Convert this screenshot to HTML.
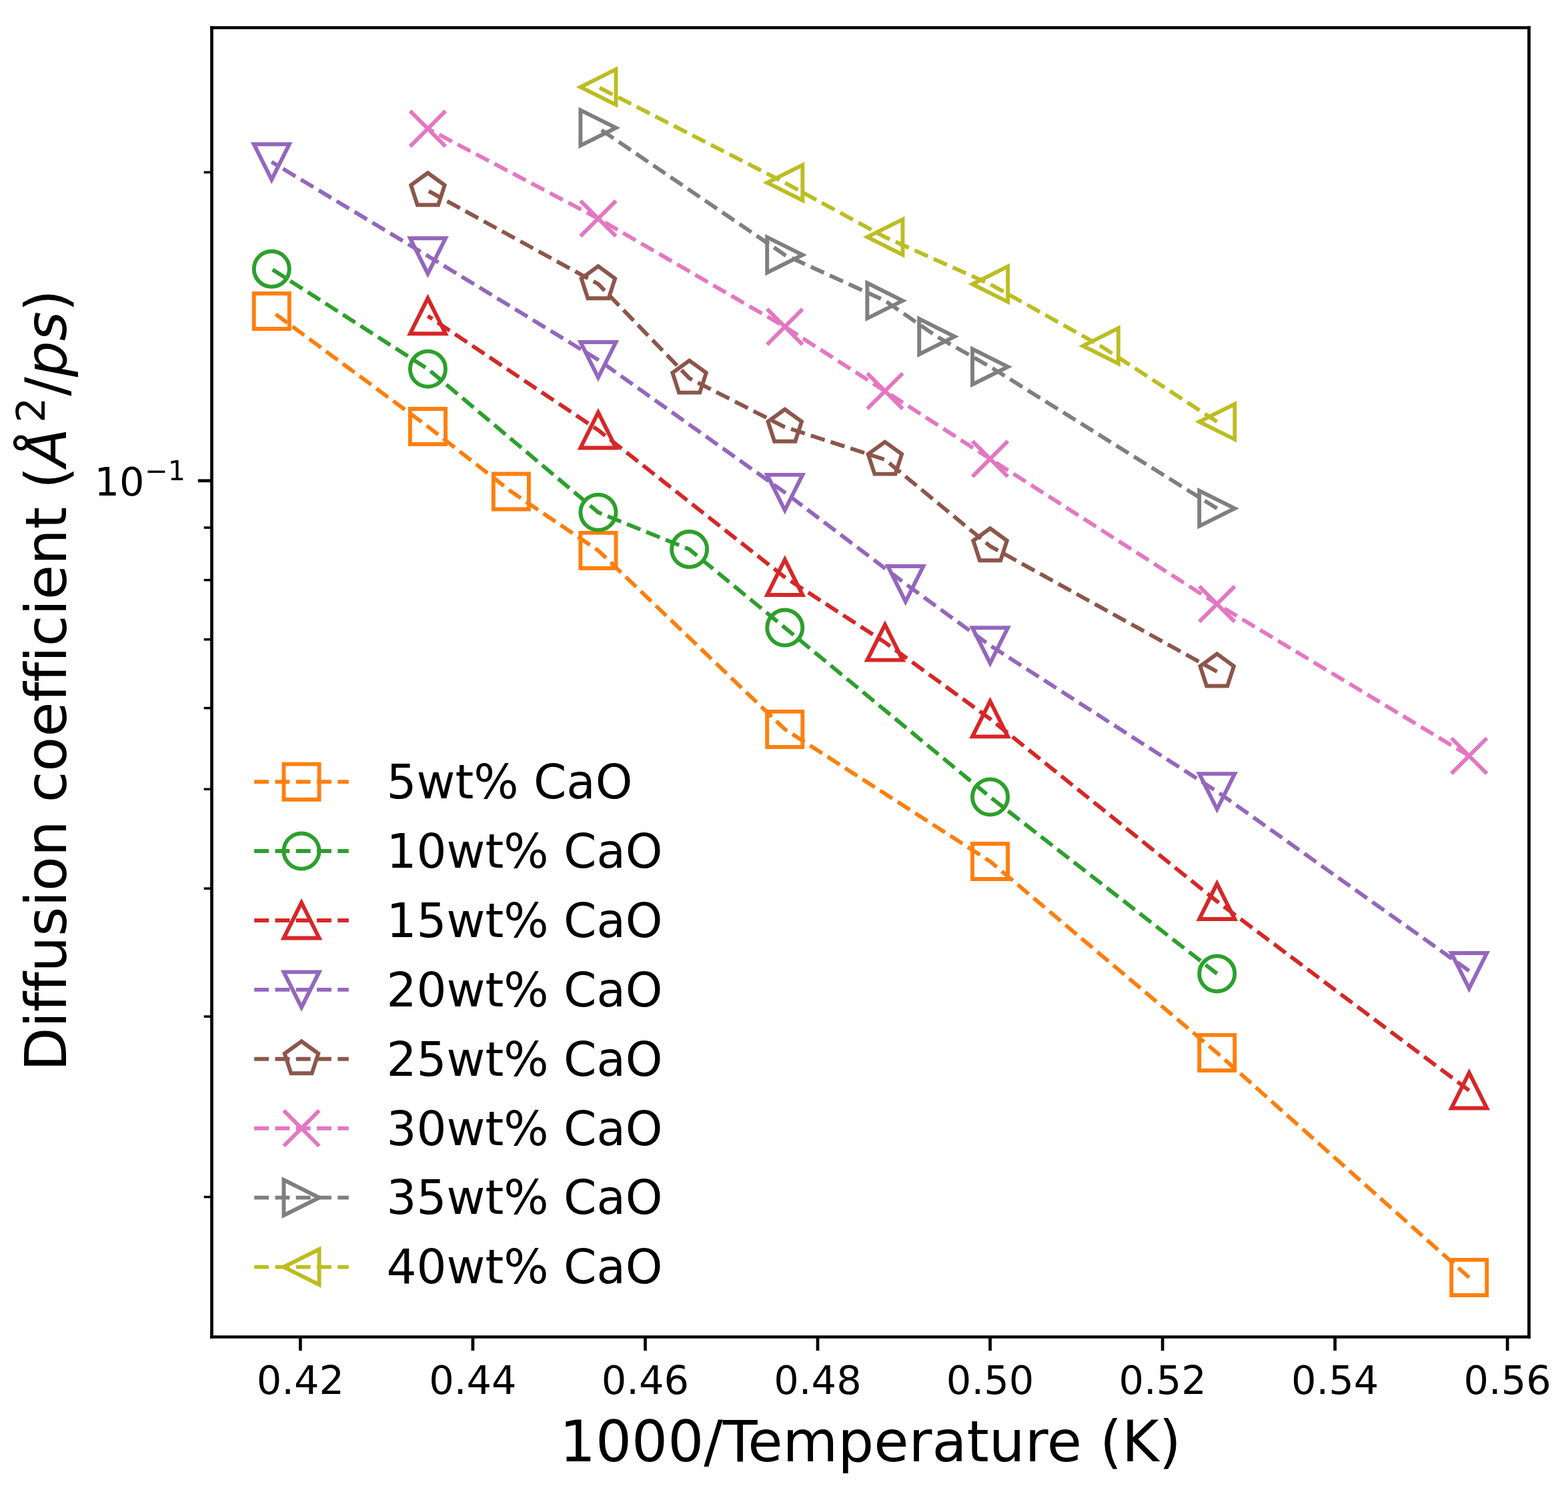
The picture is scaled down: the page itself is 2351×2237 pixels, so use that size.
<!DOCTYPE html>
<html><head><meta charset="utf-8"><title>Diffusion coefficient vs 1000/Temperature</title>
<style>html,body{margin:0;padding:0;background:#fff;}body{width:2351px;height:2237px;overflow:hidden;}svg{display:block;}text{font-variant-ligatures:none;}</style>
</head><body>
<svg width="2351" height="2237" viewBox="0 0 398.474576 379.152542" version="1.1">
 <defs>
  <style type="text/css">*{stroke-linejoin: round; stroke-linecap: butt}</style>
 </defs>
 <g id="figure_1">
  <g id="patch_1">
   <path d="M 0 379.152542 L 398.474576 379.152542 L 398.474576 0 L 0 0 z" style="fill: #ffffff"/>
  </g>
  <g id="axes_1">
   <g id="patch_2">
    <path d="M 53.813559 339.745763 L 388.559322 339.745763 L 388.559322 7.033898 L 53.813559 7.033898 z" style="fill: #ffffff"/>
   </g>
   <g id="matplotlib.axis_1">
    <g id="xtick_1">
     <g id="line2d_1">
      <g>
       <path d="M 0 0 L 0 3.5" transform="translate(76.33282 339.745763)" style="stroke: #000000; stroke-width: 0.8"/>
      </g>
     </g>
     <g id="text_1" transform="translate(0.0000 -0.1695)">
      <text style="font-size: 10px; font-family: 'DejaVu Sans', 'Liberation Sans', sans-serif; text-anchor: middle" x="76.33282" y="354.3442" transform="rotate(-0 76.33282 354.3442)">0.42</text>
     </g>
    </g>
    <g id="xtick_2">
     <g id="line2d_2">
      <g>
       <path d="M 0 0 L 0 3.5" transform="translate(120.154083 339.745763)" style="stroke: #000000; stroke-width: 0.8"/>
      </g>
     </g>
     <g id="text_2" transform="translate(0.0000 -0.1695)">
      <text style="font-size: 10px; font-family: 'DejaVu Sans', 'Liberation Sans', sans-serif; text-anchor: middle" x="120.154083" y="354.3442" transform="rotate(-0 120.154083 354.3442)">0.44</text>
     </g>
    </g>
    <g id="xtick_3">
     <g id="line2d_3">
      <g>
       <path d="M 0 0 L 0 3.5" transform="translate(163.975347 339.745763)" style="stroke: #000000; stroke-width: 0.8"/>
      </g>
     </g>
     <g id="text_3" transform="translate(0.0000 -0.1695)">
      <text style="font-size: 10px; font-family: 'DejaVu Sans', 'Liberation Sans', sans-serif; text-anchor: middle" x="163.975347" y="354.3442" transform="rotate(-0 163.975347 354.3442)">0.46</text>
     </g>
    </g>
    <g id="xtick_4">
     <g id="line2d_4">
      <g>
       <path d="M 0 0 L 0 3.5" transform="translate(207.79661 339.745763)" style="stroke: #000000; stroke-width: 0.8"/>
      </g>
     </g>
     <g id="text_4" transform="translate(0.0000 -0.1695)">
      <text style="font-size: 10px; font-family: 'DejaVu Sans', 'Liberation Sans', sans-serif; text-anchor: middle" x="207.79661" y="354.3442" transform="rotate(-0 207.79661 354.3442)">0.48</text>
     </g>
    </g>
    <g id="xtick_5">
     <g id="line2d_5">
      <g>
       <path d="M 0 0 L 0 3.5" transform="translate(251.617874 339.745763)" style="stroke: #000000; stroke-width: 0.8"/>
      </g>
     </g>
     <g id="text_5" transform="translate(0.0000 -0.1695)">
      <text style="font-size: 10px; font-family: 'DejaVu Sans', 'Liberation Sans', sans-serif; text-anchor: middle" x="251.617874" y="354.3442" transform="rotate(-0 251.617874 354.3442)">0.50</text>
     </g>
    </g>
    <g id="xtick_6">
     <g id="line2d_6">
      <g>
       <path d="M 0 0 L 0 3.5" transform="translate(295.439137 339.745763)" style="stroke: #000000; stroke-width: 0.8"/>
      </g>
     </g>
     <g id="text_6" transform="translate(0.0000 -0.1695)">
      <text style="font-size: 10px; font-family: 'DejaVu Sans', 'Liberation Sans', sans-serif; text-anchor: middle" x="295.439137" y="354.3442" transform="rotate(-0 295.439137 354.3442)">0.52</text>
     </g>
    </g>
    <g id="xtick_7">
     <g id="line2d_7">
      <g>
       <path d="M 0 0 L 0 3.5" transform="translate(339.260401 339.745763)" style="stroke: #000000; stroke-width: 0.8"/>
      </g>
     </g>
     <g id="text_7" transform="translate(0.0000 -0.1695)">
      <text style="font-size: 10px; font-family: 'DejaVu Sans', 'Liberation Sans', sans-serif; text-anchor: middle" x="339.260401" y="354.3442" transform="rotate(-0 339.260401 354.3442)">0.54</text>
     </g>
    </g>
    <g id="xtick_8">
     <g id="line2d_8">
      <g>
       <path d="M 0 0 L 0 3.5" transform="translate(383.081664 339.745763)" style="stroke: #000000; stroke-width: 0.8"/>
      </g>
     </g>
     <g id="text_8" transform="translate(0.0000 -0.1695)">
      <text style="font-size: 10px; font-family: 'DejaVu Sans', 'Liberation Sans', sans-serif; text-anchor: middle" x="383.081664" y="354.3442" transform="rotate(-0 383.081664 354.3442)">0.56</text>
     </g>
    </g>
    <g id="text_9">
     <text style="font-size: 14.4px; font-family: 'DejaVu Sans', 'Liberation Sans', sans-serif; text-anchor: middle" x="221.186441" y="371.365638" transform="rotate(-0 221.186441 371.365638)">1000/Temperature (K)</text>
    </g>
   </g>
   <g id="matplotlib.axis_2">
    <g id="ytick_1">
     <g id="line2d_9">
      <g>
       <path d="M 0 0 L -3.5 0" transform="translate(53.813559 122.169492)" style="stroke: #000000; stroke-width: 0.8"/>
      </g>
     </g>
     <g id="text_10" transform="translate(0.6780 0.0000)">
      <g transform="translate(23.313559 125.96871)">
       <text style="font-size: 10px; font-family: 'DejaVu Sans', 'Liberation Sans', sans-serif"><tspan x="0" y="-0.064063">10</tspan><tspan x="12.820312" y="-3.892188" style="font-size: 7px">−1</tspan></text>
      </g>
     </g>
    </g>
    <g id="ytick_2">
     <g id="line2d_10">
      <g>
       <path d="M 0 0 L -2 0" transform="translate(53.813559 304.174172)" style="stroke: #000000; stroke-width: 0.6"/>
      </g>
     </g>
    </g>
    <g id="ytick_3">
     <g id="line2d_11">
      <g>
       <path d="M 0 0 L -2 0" transform="translate(53.813559 258.321799)" style="stroke: #000000; stroke-width: 0.6"/>
      </g>
     </g>
    </g>
    <g id="ytick_4">
     <g id="line2d_12">
      <g>
       <path d="M 0 0 L -2 0" transform="translate(53.813559 225.789023)" style="stroke: #000000; stroke-width: 0.6"/>
      </g>
     </g>
    </g>
    <g id="ytick_5">
     <g id="line2d_13">
      <g>
       <path d="M 0 0 L -2 0" transform="translate(53.813559 200.554641)" style="stroke: #000000; stroke-width: 0.6"/>
      </g>
     </g>
    </g>
    <g id="ytick_6">
     <g id="line2d_14">
      <g>
       <path d="M 0 0 L -2 0" transform="translate(53.813559 179.93665)" style="stroke: #000000; stroke-width: 0.6"/>
      </g>
     </g>
    </g>
    <g id="ytick_7">
     <g id="line2d_15">
      <g>
       <path d="M 0 0 L -2 0" transform="translate(53.813559 162.504387)" style="stroke: #000000; stroke-width: 0.6"/>
      </g>
     </g>
    </g>
    <g id="ytick_8">
     <g id="line2d_16">
      <g>
       <path d="M 0 0 L -2 0" transform="translate(53.813559 147.403873)" style="stroke: #000000; stroke-width: 0.6"/>
      </g>
     </g>
    </g>
    <g id="ytick_9">
     <g id="line2d_17">
      <g>
       <path d="M 0 0 L -2 0" transform="translate(53.813559 134.084277)" style="stroke: #000000; stroke-width: 0.6"/>
      </g>
     </g>
    </g>
    <g id="ytick_10">
     <g id="line2d_18">
      <g>
       <path d="M 0 0 L -2 0" transform="translate(53.813559 43.784342)" style="stroke: #000000; stroke-width: 0.6"/>
      </g>
     </g>
    </g>
    <g id="text_11" transform="translate(0.4237 -0.7627)">
     <g transform="translate(16.289559 272.965831) rotate(-90)">
      <text style="font-size: 14.4px; font-family: 'DejaVu Sans', 'Liberation Sans', sans-serif"><tspan x="0 11.069031 15.062866 20.123596 25.184326 34.295044 41.784363 45.778198 54.573059 63.683777 68.253174 76.156616 84.951477 93.795471 98.856201 103.916931 107.910767 115.814209 119.808044 128.652039 137.762756 143.399048" y="0">Diffusion coefficient </tspan><tspan x="147.968445" y="0">(</tspan><tspan x="153.57666" y="0" style="font-style: oblique">Å</tspan><tspan x="164.783725" y="-5.359375" style="font-size: 10.08px">2</tspan><tspan x="171.568606" y="0">/</tspan><tspan x="176.411746 185.536502" y="0" style="font-style: oblique">ps</tspan><tspan x="193.025821" y="0">)</tspan></text>
     </g>
    </g>
   </g>
   <g id="line2d_19">
    <path d="M 373.343606 324.644068 L 309.277431 267.525424 L 251.617874 218.898305 L 199.449703 185.322034 L 152.024093 139.898305 L 129.892142 124.915254 L 108.722449 108.389831 L 69.029276 79.067797" clip-path="url(#pc05a1d1f38)" style="fill: none; stroke-dasharray: 3.7,1.6; stroke-dashoffset: 0; stroke: #ff7f0e"/>
    <g clip-path="url(#pc05a1d1f38)">
     <path d="M -4.5 4.5 L 4.5 4.5 L 4.5 -4.5 L -4.5 -4.5 z" transform="translate(373.343606 324.644068)" style="fill-opacity: 0; stroke: #ff7f0e; stroke-linejoin: miter"/>
     <path d="M -4.5 4.5 L 4.5 4.5 L 4.5 -4.5 L -4.5 -4.5 z" transform="translate(309.277431 267.525424)" style="fill-opacity: 0; stroke: #ff7f0e; stroke-linejoin: miter"/>
     <path d="M -4.5 4.5 L 4.5 4.5 L 4.5 -4.5 L -4.5 -4.5 z" transform="translate(251.617874 218.898305)" style="fill-opacity: 0; stroke: #ff7f0e; stroke-linejoin: miter"/>
     <path d="M -4.5 4.5 L 4.5 4.5 L 4.5 -4.5 L -4.5 -4.5 z" transform="translate(199.449703 185.322034)" style="fill-opacity: 0; stroke: #ff7f0e; stroke-linejoin: miter"/>
     <path d="M -4.5 4.5 L 4.5 4.5 L 4.5 -4.5 L -4.5 -4.5 z" transform="translate(152.024093 139.898305)" style="fill-opacity: 0; stroke: #ff7f0e; stroke-linejoin: miter"/>
     <path d="M -4.5 4.5 L 4.5 4.5 L 4.5 -4.5 L -4.5 -4.5 z" transform="translate(129.892142 124.915254)" style="fill-opacity: 0; stroke: #ff7f0e; stroke-linejoin: miter"/>
     <path d="M -4.5 4.5 L 4.5 4.5 L 4.5 -4.5 L -4.5 -4.5 z" transform="translate(108.722449 108.389831)" style="fill-opacity: 0; stroke: #ff7f0e; stroke-linejoin: miter"/>
     <path d="M -4.5 4.5 L 4.5 4.5 L 4.5 -4.5 L -4.5 -4.5 z" transform="translate(69.029276 79.067797)" style="fill-opacity: 0; stroke: #ff7f0e; stroke-linejoin: miter"/>
    </g>
   </g>
   <g id="line2d_20">
    <path d="M 309.277431 247.440678 L 251.617874 202.533898 L 199.449703 159.508475 L 175.185437 139.59322 L 152.024093 130.20339 L 108.722449 93.762712 L 69.029276 68.355932" clip-path="url(#pc05a1d1f38)" style="fill: none; stroke-dasharray: 3.7,1.6; stroke-dashoffset: 0; stroke: #2ca02c"/>
    <g clip-path="url(#pc05a1d1f38)">
     <path d="M 0 4.5 C 1.193414 4.5 2.338109 4.025852 3.181981 3.181981 C 4.025852 2.338109 4.5 1.193414 4.5 0 C 4.5 -1.193414 4.025852 -2.338109 3.181981 -3.181981 C 2.338109 -4.025852 1.193414 -4.5 0 -4.5 C -1.193414 -4.5 -2.338109 -4.025852 -3.181981 -3.181981 C -4.025852 -2.338109 -4.5 -1.193414 -4.5 0 C -4.5 1.193414 -4.025852 2.338109 -3.181981 3.181981 C -2.338109 4.025852 -1.193414 4.5 0 4.5 z" transform="translate(309.277431 247.440678)" style="fill-opacity: 0; stroke: #2ca02c"/>
     <path d="M 0 4.5 C 1.193414 4.5 2.338109 4.025852 3.181981 3.181981 C 4.025852 2.338109 4.5 1.193414 4.5 0 C 4.5 -1.193414 4.025852 -2.338109 3.181981 -3.181981 C 2.338109 -4.025852 1.193414 -4.5 0 -4.5 C -1.193414 -4.5 -2.338109 -4.025852 -3.181981 -3.181981 C -4.025852 -2.338109 -4.5 -1.193414 -4.5 0 C -4.5 1.193414 -4.025852 2.338109 -3.181981 3.181981 C -2.338109 4.025852 -1.193414 4.5 0 4.5 z" transform="translate(251.617874 202.533898)" style="fill-opacity: 0; stroke: #2ca02c"/>
     <path d="M 0 4.5 C 1.193414 4.5 2.338109 4.025852 3.181981 3.181981 C 4.025852 2.338109 4.5 1.193414 4.5 0 C 4.5 -1.193414 4.025852 -2.338109 3.181981 -3.181981 C 2.338109 -4.025852 1.193414 -4.5 0 -4.5 C -1.193414 -4.5 -2.338109 -4.025852 -3.181981 -3.181981 C -4.025852 -2.338109 -4.5 -1.193414 -4.5 0 C -4.5 1.193414 -4.025852 2.338109 -3.181981 3.181981 C -2.338109 4.025852 -1.193414 4.5 0 4.5 z" transform="translate(199.449703 159.508475)" style="fill-opacity: 0; stroke: #2ca02c"/>
     <path d="M 0 4.5 C 1.193414 4.5 2.338109 4.025852 3.181981 3.181981 C 4.025852 2.338109 4.5 1.193414 4.5 0 C 4.5 -1.193414 4.025852 -2.338109 3.181981 -3.181981 C 2.338109 -4.025852 1.193414 -4.5 0 -4.5 C -1.193414 -4.5 -2.338109 -4.025852 -3.181981 -3.181981 C -4.025852 -2.338109 -4.5 -1.193414 -4.5 0 C -4.5 1.193414 -4.025852 2.338109 -3.181981 3.181981 C -2.338109 4.025852 -1.193414 4.5 0 4.5 z" transform="translate(175.185437 139.59322)" style="fill-opacity: 0; stroke: #2ca02c"/>
     <path d="M 0 4.5 C 1.193414 4.5 2.338109 4.025852 3.181981 3.181981 C 4.025852 2.338109 4.5 1.193414 4.5 0 C 4.5 -1.193414 4.025852 -2.338109 3.181981 -3.181981 C 2.338109 -4.025852 1.193414 -4.5 0 -4.5 C -1.193414 -4.5 -2.338109 -4.025852 -3.181981 -3.181981 C -4.025852 -2.338109 -4.5 -1.193414 -4.5 0 C -4.5 1.193414 -4.025852 2.338109 -3.181981 3.181981 C -2.338109 4.025852 -1.193414 4.5 0 4.5 z" transform="translate(152.024093 130.20339)" style="fill-opacity: 0; stroke: #2ca02c"/>
     <path d="M 0 4.5 C 1.193414 4.5 2.338109 4.025852 3.181981 3.181981 C 4.025852 2.338109 4.5 1.193414 4.5 0 C 4.5 -1.193414 4.025852 -2.338109 3.181981 -3.181981 C 2.338109 -4.025852 1.193414 -4.5 0 -4.5 C -1.193414 -4.5 -2.338109 -4.025852 -3.181981 -3.181981 C -4.025852 -2.338109 -4.5 -1.193414 -4.5 0 C -4.5 1.193414 -4.025852 2.338109 -3.181981 3.181981 C -2.338109 4.025852 -1.193414 4.5 0 4.5 z" transform="translate(108.722449 93.762712)" style="fill-opacity: 0; stroke: #2ca02c"/>
     <path d="M 0 4.5 C 1.193414 4.5 2.338109 4.025852 3.181981 3.181981 C 4.025852 2.338109 4.5 1.193414 4.5 0 C 4.5 -1.193414 4.025852 -2.338109 3.181981 -3.181981 C 2.338109 -4.025852 1.193414 -4.5 0 -4.5 C -1.193414 -4.5 -2.338109 -4.025852 -3.181981 -3.181981 C -4.025852 -2.338109 -4.5 -1.193414 -4.5 0 C -4.5 1.193414 -4.025852 2.338109 -3.181981 3.181981 C -2.338109 4.025852 -1.193414 4.5 0 4.5 z" transform="translate(69.029276 68.355932)" style="fill-opacity: 0; stroke: #2ca02c"/>
    </g>
   </g>
   <g id="line2d_21">
    <path d="M 373.343606 277.118644 L 309.277431 229.050847 L 251.617874 182.677966 L 224.897591 163.237288 L 199.449703 146.694915 L 152.024093 109.305085 L 108.722449 80.288136" clip-path="url(#pc05a1d1f38)" style="fill: none; stroke-dasharray: 3.7,1.6; stroke-dashoffset: 0; stroke: #d62728"/>
    <g clip-path="url(#pc05a1d1f38)">
     <path d="M 0 -4.5 L -4.5 4.5 L 4.5 4.5 z" transform="translate(373.343606 277.118644)" style="fill-opacity: 0; stroke: #d62728; stroke-linejoin: miter"/>
     <path d="M 0 -4.5 L -4.5 4.5 L 4.5 4.5 z" transform="translate(309.277431 229.050847)" style="fill-opacity: 0; stroke: #d62728; stroke-linejoin: miter"/>
     <path d="M 0 -4.5 L -4.5 4.5 L 4.5 4.5 z" transform="translate(251.617874 182.677966)" style="fill-opacity: 0; stroke: #d62728; stroke-linejoin: miter"/>
     <path d="M 0 -4.5 L -4.5 4.5 L 4.5 4.5 z" transform="translate(224.897591 163.237288)" style="fill-opacity: 0; stroke: #d62728; stroke-linejoin: miter"/>
     <path d="M 0 -4.5 L -4.5 4.5 L 4.5 4.5 z" transform="translate(199.449703 146.694915)" style="fill-opacity: 0; stroke: #d62728; stroke-linejoin: miter"/>
     <path d="M 0 -4.5 L -4.5 4.5 L 4.5 4.5 z" transform="translate(152.024093 109.305085)" style="fill-opacity: 0; stroke: #d62728; stroke-linejoin: miter"/>
     <path d="M 0 -4.5 L -4.5 4.5 L 4.5 4.5 z" transform="translate(108.722449 80.288136)" style="fill-opacity: 0; stroke: #d62728; stroke-linejoin: miter"/>
    </g>
   </g>
   <g id="line2d_22">
    <path d="M 373.343606 246.711864 L 309.277431 201.135593 L 251.617874 164.033898 L 230.136862 148.389831 L 199.449703 125.152542 L 152.024093 91.440678 L 108.722449 65.050847 L 69.029276 41.152542" clip-path="url(#pc05a1d1f38)" style="fill: none; stroke-dasharray: 3.7,1.6; stroke-dashoffset: 0; stroke: #9467bd"/>
    <g clip-path="url(#pc05a1d1f38)">
     <path d="M -0 4.5 L 4.5 -4.5 L -4.5 -4.5 z" transform="translate(373.343606 246.711864)" style="fill-opacity: 0; stroke: #9467bd; stroke-linejoin: miter"/>
     <path d="M -0 4.5 L 4.5 -4.5 L -4.5 -4.5 z" transform="translate(309.277431 201.135593)" style="fill-opacity: 0; stroke: #9467bd; stroke-linejoin: miter"/>
     <path d="M -0 4.5 L 4.5 -4.5 L -4.5 -4.5 z" transform="translate(251.617874 164.033898)" style="fill-opacity: 0; stroke: #9467bd; stroke-linejoin: miter"/>
     <path d="M -0 4.5 L 4.5 -4.5 L -4.5 -4.5 z" transform="translate(230.136862 148.389831)" style="fill-opacity: 0; stroke: #9467bd; stroke-linejoin: miter"/>
     <path d="M -0 4.5 L 4.5 -4.5 L -4.5 -4.5 z" transform="translate(199.449703 125.152542)" style="fill-opacity: 0; stroke: #9467bd; stroke-linejoin: miter"/>
     <path d="M -0 4.5 L 4.5 -4.5 L -4.5 -4.5 z" transform="translate(152.024093 91.440678)" style="fill-opacity: 0; stroke: #9467bd; stroke-linejoin: miter"/>
     <path d="M -0 4.5 L 4.5 -4.5 L -4.5 -4.5 z" transform="translate(108.722449 65.050847)" style="fill-opacity: 0; stroke: #9467bd; stroke-linejoin: miter"/>
     <path d="M -0 4.5 L 4.5 -4.5 L -4.5 -4.5 z" transform="translate(69.029276 41.152542)" style="fill-opacity: 0; stroke: #9467bd; stroke-linejoin: miter"/>
    </g>
   </g>
   <g id="line2d_23">
    <path d="M 309.277431 170.677966 L 251.617874 138.779661 L 224.897591 116.79661 L 199.449703 108.525424 L 175.185437 96.118644 L 152.024093 72.161017 L 108.722449 48.440678" clip-path="url(#pc05a1d1f38)" style="fill: none; stroke-dasharray: 3.7,1.6; stroke-dashoffset: 0; stroke: #8c564b"/>
    <g clip-path="url(#pc05a1d1f38)">
     <path d="M 0 -4.5 L -4.279754 -1.390576 L -2.645034 3.640576 L 2.645034 3.640576 L 4.279754 -1.390576 z" transform="translate(309.277431 170.677966)" style="fill-opacity: 0; stroke: #8c564b; stroke-linejoin: miter"/>
     <path d="M 0 -4.5 L -4.279754 -1.390576 L -2.645034 3.640576 L 2.645034 3.640576 L 4.279754 -1.390576 z" transform="translate(251.617874 138.779661)" style="fill-opacity: 0; stroke: #8c564b; stroke-linejoin: miter"/>
     <path d="M 0 -4.5 L -4.279754 -1.390576 L -2.645034 3.640576 L 2.645034 3.640576 L 4.279754 -1.390576 z" transform="translate(224.897591 116.79661)" style="fill-opacity: 0; stroke: #8c564b; stroke-linejoin: miter"/>
     <path d="M 0 -4.5 L -4.279754 -1.390576 L -2.645034 3.640576 L 2.645034 3.640576 L 4.279754 -1.390576 z" transform="translate(199.449703 108.525424)" style="fill-opacity: 0; stroke: #8c564b; stroke-linejoin: miter"/>
     <path d="M 0 -4.5 L -4.279754 -1.390576 L -2.645034 3.640576 L 2.645034 3.640576 L 4.279754 -1.390576 z" transform="translate(175.185437 96.118644)" style="fill-opacity: 0; stroke: #8c564b; stroke-linejoin: miter"/>
     <path d="M 0 -4.5 L -4.279754 -1.390576 L -2.645034 3.640576 L 2.645034 3.640576 L 4.279754 -1.390576 z" transform="translate(152.024093 72.161017)" style="fill-opacity: 0; stroke: #8c564b; stroke-linejoin: miter"/>
     <path d="M 0 -4.5 L -4.279754 -1.390576 L -2.645034 3.640576 L 2.645034 3.640576 L 4.279754 -1.390576 z" transform="translate(108.722449 48.440678)" style="fill-opacity: 0; stroke: #8c564b; stroke-linejoin: miter"/>
    </g>
   </g>
   <g id="line2d_24">
    <path d="M 373.343606 192.084746 L 309.277431 153.491525 L 251.617874 116.610169 L 224.897591 99.372881 L 199.449703 83.050847 L 152.024093 55.525424 L 108.722449 32.711864" clip-path="url(#pc05a1d1f38)" style="fill: none; stroke-dasharray: 3.7,1.6; stroke-dashoffset: 0; stroke: #e377c2"/>
    <g clip-path="url(#pc05a1d1f38)">
     <path d="M -4.5 4.5 L 4.5 -4.5 M -4.5 -4.5 L 4.5 4.5" transform="translate(373.343606 192.084746)" style="fill-opacity: 0; stroke: #e377c2"/>
     <path d="M -4.5 4.5 L 4.5 -4.5 M -4.5 -4.5 L 4.5 4.5" transform="translate(309.277431 153.491525)" style="fill-opacity: 0; stroke: #e377c2"/>
     <path d="M -4.5 4.5 L 4.5 -4.5 M -4.5 -4.5 L 4.5 4.5" transform="translate(251.617874 116.610169)" style="fill-opacity: 0; stroke: #e377c2"/>
     <path d="M -4.5 4.5 L 4.5 -4.5 M -4.5 -4.5 L 4.5 4.5" transform="translate(224.897591 99.372881)" style="fill-opacity: 0; stroke: #e377c2"/>
     <path d="M -4.5 4.5 L 4.5 -4.5 M -4.5 -4.5 L 4.5 4.5" transform="translate(199.449703 83.050847)" style="fill-opacity: 0; stroke: #e377c2"/>
     <path d="M -4.5 4.5 L 4.5 -4.5 M -4.5 -4.5 L 4.5 4.5" transform="translate(152.024093 55.525424)" style="fill-opacity: 0; stroke: #e377c2"/>
     <path d="M -4.5 4.5 L 4.5 -4.5 M -4.5 -4.5 L 4.5 4.5" transform="translate(108.722449 32.711864)" style="fill-opacity: 0; stroke: #e377c2"/>
    </g>
   </g>
   <g id="line2d_25">
    <path d="M 309.277431 129.20339 L 251.617874 93.20339 L 238.092792 85.525424 L 224.897591 76.40678 L 199.449703 64.779661 L 152.024093 32.491525" clip-path="url(#pc05a1d1f38)" style="fill: none; stroke-dasharray: 3.7,1.6; stroke-dashoffset: 0; stroke: #7f7f7f"/>
    <g clip-path="url(#pc05a1d1f38)">
     <path d="M 4.5 0 L -4.5 -4.5 L -4.5 4.5 z" transform="translate(309.277431 129.20339)" style="fill-opacity: 0; stroke: #7f7f7f; stroke-linejoin: miter"/>
     <path d="M 4.5 0 L -4.5 -4.5 L -4.5 4.5 z" transform="translate(251.617874 93.20339)" style="fill-opacity: 0; stroke: #7f7f7f; stroke-linejoin: miter"/>
     <path d="M 4.5 0 L -4.5 -4.5 L -4.5 4.5 z" transform="translate(238.092792 85.525424)" style="fill-opacity: 0; stroke: #7f7f7f; stroke-linejoin: miter"/>
     <path d="M 4.5 0 L -4.5 -4.5 L -4.5 4.5 z" transform="translate(224.897591 76.40678)" style="fill-opacity: 0; stroke: #7f7f7f; stroke-linejoin: miter"/>
     <path d="M 4.5 0 L -4.5 -4.5 L -4.5 4.5 z" transform="translate(199.449703 64.779661)" style="fill-opacity: 0; stroke: #7f7f7f; stroke-linejoin: miter"/>
     <path d="M 4.5 0 L -4.5 -4.5 L -4.5 4.5 z" transform="translate(152.024093 32.491525)" style="fill-opacity: 0; stroke: #7f7f7f; stroke-linejoin: miter"/>
    </g>
   </g>
   <g id="line2d_26">
    <path d="M 309.277431 107.169492 L 279.708427 87.90678 L 251.617874 72.20339 L 224.897591 60.245763 L 199.449703 46.432203 L 152.024093 22.118644" clip-path="url(#pc05a1d1f38)" style="fill: none; stroke-dasharray: 3.7,1.6; stroke-dashoffset: 0; stroke: #bcbd22"/>
    <g clip-path="url(#pc05a1d1f38)">
     <path d="M -4.5 -0 L 4.5 4.5 L 4.5 -4.5 z" transform="translate(309.277431 107.169492)" style="fill-opacity: 0; stroke: #bcbd22; stroke-linejoin: miter"/>
     <path d="M -4.5 -0 L 4.5 4.5 L 4.5 -4.5 z" transform="translate(279.708427 87.90678)" style="fill-opacity: 0; stroke: #bcbd22; stroke-linejoin: miter"/>
     <path d="M -4.5 -0 L 4.5 4.5 L 4.5 -4.5 z" transform="translate(251.617874 72.20339)" style="fill-opacity: 0; stroke: #bcbd22; stroke-linejoin: miter"/>
     <path d="M -4.5 -0 L 4.5 4.5 L 4.5 -4.5 z" transform="translate(224.897591 60.245763)" style="fill-opacity: 0; stroke: #bcbd22; stroke-linejoin: miter"/>
     <path d="M -4.5 -0 L 4.5 4.5 L 4.5 -4.5 z" transform="translate(199.449703 46.432203)" style="fill-opacity: 0; stroke: #bcbd22; stroke-linejoin: miter"/>
     <path d="M -4.5 -0 L 4.5 4.5 L 4.5 -4.5 z" transform="translate(152.024093 22.118644)" style="fill-opacity: 0; stroke: #bcbd22; stroke-linejoin: miter"/>
    </g>
   </g>
   <g id="patch_3">
    <path d="M 53.813559 339.745763 L 53.813559 7.033898" style="fill: none; stroke: #000000; stroke-width: 0.8; stroke-linejoin: miter; stroke-linecap: square"/>
   </g>
   <g id="patch_4">
    <path d="M 388.559322 339.745763 L 388.559322 7.033898" style="fill: none; stroke: #000000; stroke-width: 0.8; stroke-linejoin: miter; stroke-linecap: square"/>
   </g>
   <g id="patch_5">
    <path d="M 53.813559 339.745763 L 388.559322 339.745763" style="fill: none; stroke: #000000; stroke-width: 0.8; stroke-linejoin: miter; stroke-linecap: square"/>
   </g>
   <g id="patch_6">
    <path d="M 53.813559 7.033898 L 388.559322 7.033898" style="fill: none; stroke: #000000; stroke-width: 0.8; stroke-linejoin: miter; stroke-linecap: square"/>
   </g>
   <g id="legend_1" transform="translate(0.0000 -0.2881)">
    <g id="line2d_27">
     <path d="M 64.613559 198.953888 L 76.613559 198.953888 L 88.613559 198.953888" style="fill: none; stroke-dasharray: 3.7,1.6; stroke-dashoffset: 0; stroke: #ff7f0e"/>
     <g>
      <path d="M -4.5 4.5 L 4.5 4.5 L 4.5 -4.5 L -4.5 -4.5 z" transform="translate(76.613559 198.953888)" style="fill-opacity: 0; stroke: #ff7f0e; stroke-linejoin: miter"/>
     </g>
    </g>
    <g id="text_12">
     <text style="font-size: 12px; font-family: 'DejaVu Sans', 'Liberation Sans', sans-serif; text-anchor: start" x="98.213559" y="203.153888" transform="rotate(-0 98.213559 203.153888)">5wt% CaO</text>
    </g>
    <g id="line2d_28">
     <path d="M 64.613559 216.567638 L 76.613559 216.567638 L 88.613559 216.567638" style="fill: none; stroke-dasharray: 3.7,1.6; stroke-dashoffset: 0; stroke: #2ca02c"/>
     <g>
      <path d="M 0 4.5 C 1.193414 4.5 2.338109 4.025852 3.181981 3.181981 C 4.025852 2.338109 4.5 1.193414 4.5 0 C 4.5 -1.193414 4.025852 -2.338109 3.181981 -3.181981 C 2.338109 -4.025852 1.193414 -4.5 0 -4.5 C -1.193414 -4.5 -2.338109 -4.025852 -3.181981 -3.181981 C -4.025852 -2.338109 -4.5 -1.193414 -4.5 0 C -4.5 1.193414 -4.025852 2.338109 -3.181981 3.181981 C -2.338109 4.025852 -1.193414 4.5 0 4.5 z" transform="translate(76.613559 216.567638)" style="fill-opacity: 0; stroke: #2ca02c"/>
     </g>
    </g>
    <g id="text_13">
     <text style="font-size: 12px; font-family: 'DejaVu Sans', 'Liberation Sans', sans-serif; text-anchor: start" x="98.213559" y="220.767638" transform="rotate(-0 98.213559 220.767638)">10wt% CaO</text>
    </g>
    <g id="line2d_29">
     <path d="M 64.613559 234.181388 L 76.613559 234.181388 L 88.613559 234.181388" style="fill: none; stroke-dasharray: 3.7,1.6; stroke-dashoffset: 0; stroke: #d62728"/>
     <g>
      <path d="M 0 -4.5 L -4.5 4.5 L 4.5 4.5 z" transform="translate(76.613559 234.181388)" style="fill-opacity: 0; stroke: #d62728; stroke-linejoin: miter"/>
     </g>
    </g>
    <g id="text_14">
     <text style="font-size: 12px; font-family: 'DejaVu Sans', 'Liberation Sans', sans-serif; text-anchor: start" x="98.213559" y="238.381388" transform="rotate(-0 98.213559 238.381388)">15wt% CaO</text>
    </g>
    <g id="line2d_30">
     <path d="M 64.613559 251.795138 L 76.613559 251.795138 L 88.613559 251.795138" style="fill: none; stroke-dasharray: 3.7,1.6; stroke-dashoffset: 0; stroke: #9467bd"/>
     <g>
      <path d="M -0 4.5 L 4.5 -4.5 L -4.5 -4.5 z" transform="translate(76.613559 251.795138)" style="fill-opacity: 0; stroke: #9467bd; stroke-linejoin: miter"/>
     </g>
    </g>
    <g id="text_15">
     <text style="font-size: 12px; font-family: 'DejaVu Sans', 'Liberation Sans', sans-serif; text-anchor: start" x="98.213559" y="255.995138" transform="rotate(-0 98.213559 255.995138)">20wt% CaO</text>
    </g>
    <g id="line2d_31">
     <path d="M 64.613559 269.408888 L 76.613559 269.408888 L 88.613559 269.408888" style="fill: none; stroke-dasharray: 3.7,1.6; stroke-dashoffset: 0; stroke: #8c564b"/>
     <g>
      <path d="M 0 -4.5 L -4.279754 -1.390576 L -2.645034 3.640576 L 2.645034 3.640576 L 4.279754 -1.390576 z" transform="translate(76.613559 269.408888)" style="fill-opacity: 0; stroke: #8c564b; stroke-linejoin: miter"/>
     </g>
    </g>
    <g id="text_16">
     <text style="font-size: 12px; font-family: 'DejaVu Sans', 'Liberation Sans', sans-serif; text-anchor: start" x="98.213559" y="273.608888" transform="rotate(-0 98.213559 273.608888)">25wt% CaO</text>
    </g>
    <g id="line2d_32">
     <path d="M 64.613559 287.022638 L 76.613559 287.022638 L 88.613559 287.022638" style="fill: none; stroke-dasharray: 3.7,1.6; stroke-dashoffset: 0; stroke: #e377c2"/>
     <g>
      <path d="M -4.5 4.5 L 4.5 -4.5 M -4.5 -4.5 L 4.5 4.5" transform="translate(76.613559 287.022638)" style="fill-opacity: 0; stroke: #e377c2"/>
     </g>
    </g>
    <g id="text_17">
     <text style="font-size: 12px; font-family: 'DejaVu Sans', 'Liberation Sans', sans-serif; text-anchor: start" x="98.213559" y="291.222638" transform="rotate(-0 98.213559 291.222638)">30wt% CaO</text>
    </g>
    <g id="line2d_33">
     <path d="M 64.613559 304.636388 L 76.613559 304.636388 L 88.613559 304.636388" style="fill: none; stroke-dasharray: 3.7,1.6; stroke-dashoffset: 0; stroke: #7f7f7f"/>
     <g>
      <path d="M 4.5 0 L -4.5 -4.5 L -4.5 4.5 z" transform="translate(76.613559 304.636388)" style="fill-opacity: 0; stroke: #7f7f7f; stroke-linejoin: miter"/>
     </g>
    </g>
    <g id="text_18">
     <text style="font-size: 12px; font-family: 'DejaVu Sans', 'Liberation Sans', sans-serif; text-anchor: start" x="98.213559" y="308.836388" transform="rotate(-0 98.213559 308.836388)">35wt% CaO</text>
    </g>
    <g id="line2d_34">
     <path d="M 64.613559 322.250138 L 76.613559 322.250138 L 88.613559 322.250138" style="fill: none; stroke-dasharray: 3.7,1.6; stroke-dashoffset: 0; stroke: #bcbd22"/>
     <g>
      <path d="M -4.5 -0 L 4.5 4.5 L 4.5 -4.5 z" transform="translate(76.613559 322.250138)" style="fill-opacity: 0; stroke: #bcbd22; stroke-linejoin: miter"/>
     </g>
    </g>
    <g id="text_19">
     <text style="font-size: 12px; font-family: 'DejaVu Sans', 'Liberation Sans', sans-serif; text-anchor: start" x="98.213559" y="326.450138" transform="rotate(-0 98.213559 326.450138)">40wt% CaO</text>
    </g>
   </g>
  </g>
 </g>
 <defs>
  <clipPath id="pc05a1d1f38">
   <rect x="53.813559" y="7.033898" width="334.745763" height="332.711864"/>
  </clipPath>
 </defs>
</svg>

</body></html>
